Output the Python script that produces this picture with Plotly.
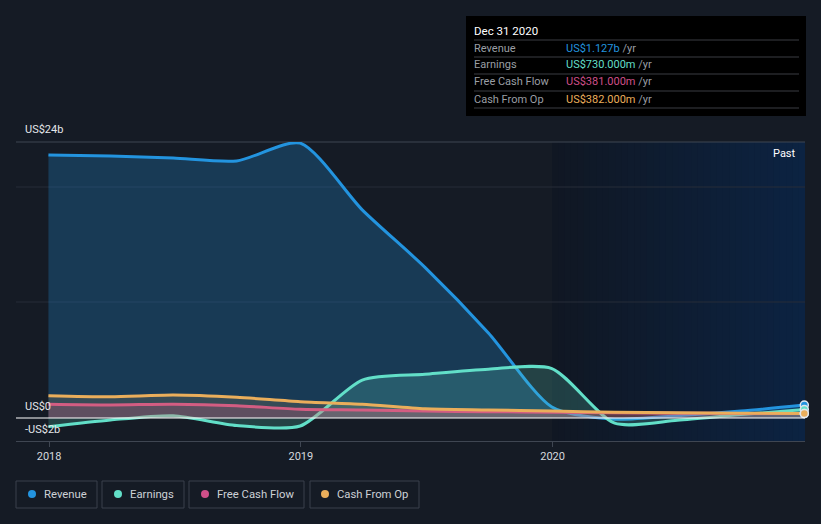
import plotly.graph_objects as go

# ---------------- data ----------------
dates = ["2017-12-31", "2018-03-31", "2018-06-30", "2018-09-30", "2018-12-31",
         "2019-03-31", "2019-06-30", "2019-09-30", "2019-12-31",
         "2020-03-31", "2020-06-30", "2020-09-30", "2020-12-31"]
revenue = [22.87, 22.78, 22.6, 22.35, 23.9, 18.1, 13.1, 7.4, 0.96, -0.1, 0.2, 0.6, 1.127]
earnings = [-0.75, -0.17, 0.2, -0.65, -0.7, 3.3, 3.8, 4.25, 4.3, -0.45, -0.2, 0.3, 0.73]
fcf = [1.19, 1.13, 1.2, 1.07, 0.76, 0.7, 0.6, 0.55, 0.5, 0.45, 0.42, 0.4, 0.381]
cfo = [1.94, 1.85, 2.0, 1.8, 1.42, 1.2, 0.8, 0.7, 0.6, 0.5, 0.45, 0.42, 0.382]

series_names = ["Revenue", "Earnings", "Free Cash Flow", "Cash From Op"]
tooltip_values = ["US$1.127b", "US$730.000m", "US$381.000m", "US$382.000m"]
tooltip_title = "Dec 31 2020"
xtick_vals = ["2018-01-01", "2019-01-01", "2020-01-01"]
xtick_text = ["2018", "2019", "2020"]
ytick_labels = [(24, "US$24b"), (0, "US$0"), (-2, "-US$2b")]

# ---------------- style ----------------
W, H = 821, 524
L, R, T, B = 16, 805, 142, 441
BG = "#151b25"
colors = ["#2394df", "#62dfc8", "#cf4f89", "#eaae5b"]
fills = ["rgba(35,148,223,0.26)", "rgba(98,223,200,0.2)",
         "rgba(207,79,137,0.25)", "rgba(234,174,91,0.15)"]
FONT = "Roboto"


def px(xp):
    return (xp - L) / (R - L)


def py(yp):
    return (B - yp) / (B - T)


fig = go.Figure()

for name, vals, c, f in zip(series_names, [revenue, earnings, fcf, cfo], colors, fills):
    fig.add_trace(go.Scatter(
        x=dates, y=vals, name=name, mode="lines",
        line=dict(color=c, width=3, shape="spline", smoothing=0.7),
        fill="tozeroy", fillcolor=f, hoverinfo="skip", showlegend=False,
    ))

# end markers
for vals, c in zip([revenue, earnings, fcf, cfo], colors):
    fig.add_trace(go.Scatter(
        x=[dates[-1]], y=[vals[-1]], mode="markers",
        marker=dict(size=8, color=c, line=dict(color="#dfe6ee", width=1.5)),
        hoverinfo="skip", showlegend=False, cliponaxis=False,
    ))

shapes = []
# past region gradient (drawn as strips)
n = 40
x0p, x1p = 552, 805
c0 = (16, 23, 35)
c1 = (12, 35, 66)
for i in range(n):
    t = i / (n - 1)
    col = tuple(int(round(c0[k] + (c1[k] - c0[k]) * t)) for k in range(3))
    xa = x0p + (x1p - x0p) * i / n
    xb = x0p + (x1p - x0p) * (i + 1) / n + 0.5
    shapes.append(dict(type="rect", xref="paper", yref="paper",
                       x0=px(xa), x1=px(min(xb, x1p)), y0=0, y1=1,
                       fillcolor="rgb(%d,%d,%d)" % col, line=dict(width=0), layer="below"))

# gridlines
for yp, col in [(142, "#3f4652"), (187, "#262d38"), (302, "#262d38")]:
    shapes.append(dict(type="line", xref="paper", yref="paper", x0=0, x1=1,
                       y0=py(yp), y1=py(yp), line=dict(color=col, width=1), layer="below"))
# zero line
shapes.append(dict(type="line", xref="paper", yref="y", x0=0, x1=1, y0=0, y1=0,
                   line=dict(color="#ffffff", width=1.2), layer="above"))

# tooltip box
shapes.append(dict(type="rect", xref="paper", yref="paper", x0=px(466), x1=px(806),
                   y0=py(116), y1=py(16), fillcolor="#000000", line=dict(width=0), layer="above"))
for yp in [40, 57, 74, 91, 108]:
    shapes.append(dict(type="line", xref="paper", yref="paper", x0=px(474), x1=px(799),
                       y0=py(yp), y1=py(yp), line=dict(color="#3a3d42", width=1), layer="above"))

annotations = []
annotations.append(dict(xref="paper", yref="paper", x=px(472), y=py(31), text=tooltip_title,
                        showarrow=False, xanchor="left", yanchor="middle",
                        font=dict(family=FONT, size=11.5, color="#ffffff")))
for i, (nm, val, c) in enumerate(zip(series_names, tooltip_values, colors)):
    yc = 48 + 17 * i
    annotations.append(dict(xref="paper", yref="paper", x=px(472), y=py(yc), text=nm,
                            showarrow=False, xanchor="left", yanchor="middle",
                            font=dict(family=FONT, size=11, color="#9a9ea4")))
    annotations.append(dict(xref="paper", yref="paper", x=px(564), y=py(yc),
                            text='<span style="color:%s">%s</span> /yr' % (c, val),
                            showarrow=False, xanchor="left", yanchor="middle",
                            font=dict(family=FONT, size=11, color="#9a9ea4")))

# y labels
for v, txt in ytick_labels:
    yp = {24: 129, 0: 406, -2: 429}[v]
    annotations.append(dict(xref="paper", yref="paper", x=px(23), y=py(yp), text=txt,
                            showarrow=False, xanchor="left", yanchor="middle",
                            font=dict(family=FONT, size=11, color="#e4e6ea")))

# Past label
annotations.append(dict(xref="paper", yref="paper", x=px(798), y=py(153), text="Past",
                        showarrow=False, xanchor="right", yanchor="middle",
                        font=dict(family=FONT, size=11, color="#ffffff")))

# legend boxes
boxes = [(16, 97, 32, 42), (102, 184, 118, 128), (189, 304, 205, 215), (310, 419, 325, 335)]
for (bx0, bx1, dx, tx), nm, c in zip(boxes, series_names, colors):
    shapes.append(dict(type="rect", xref="paper", yref="paper", x0=px(bx0), x1=px(bx1),
                       y0=py(508), y1=py(481), fillcolor="rgba(0,0,0,0)",
                       line=dict(color="#3a414c", width=1), layer="above"))
    shapes.append(dict(type="circle", xref="paper", yref="paper", x0=px(dx - 4), x1=px(dx + 4),
                       y0=py(498), y1=py(490), fillcolor=c, line=dict(width=0), layer="above"))
    annotations.append(dict(xref="paper", yref="paper", x=px(tx), y=py(494.5), text=nm,
                            showarrow=False, xanchor="left", yanchor="middle",
                            font=dict(family=FONT, size=11.3, color="#cdd1d6")))

fig.update_layout(
    width=W, height=H,
    margin=dict(l=L, r=W - R, t=T, b=H - B, pad=0),
    paper_bgcolor=BG, plot_bgcolor=BG,
    font=dict(family=FONT),
    shapes=shapes, annotations=annotations,
    showlegend=False,
    xaxis=dict(type="date", range=["2017-11-14", "2021-01-01"],
               tickvals=xtick_vals, ticktext=xtick_text,
               showgrid=False, zeroline=False,
               showline=True, linecolor="#3f4652", linewidth=1,
               ticks="outside", ticklen=5, tickcolor="#3f4652",
               tickfont=dict(family=FONT, size=11, color="#d6d9de")),
    yaxis=dict(range=[-2, 24], showgrid=False, zeroline=False,
               showticklabels=False, ticks=""),
)

fig.write_html("out.html", config={"displayModeBar": False},
               post_script="document.body.style.margin='0';document.body.style.background='%s';" % BG)
